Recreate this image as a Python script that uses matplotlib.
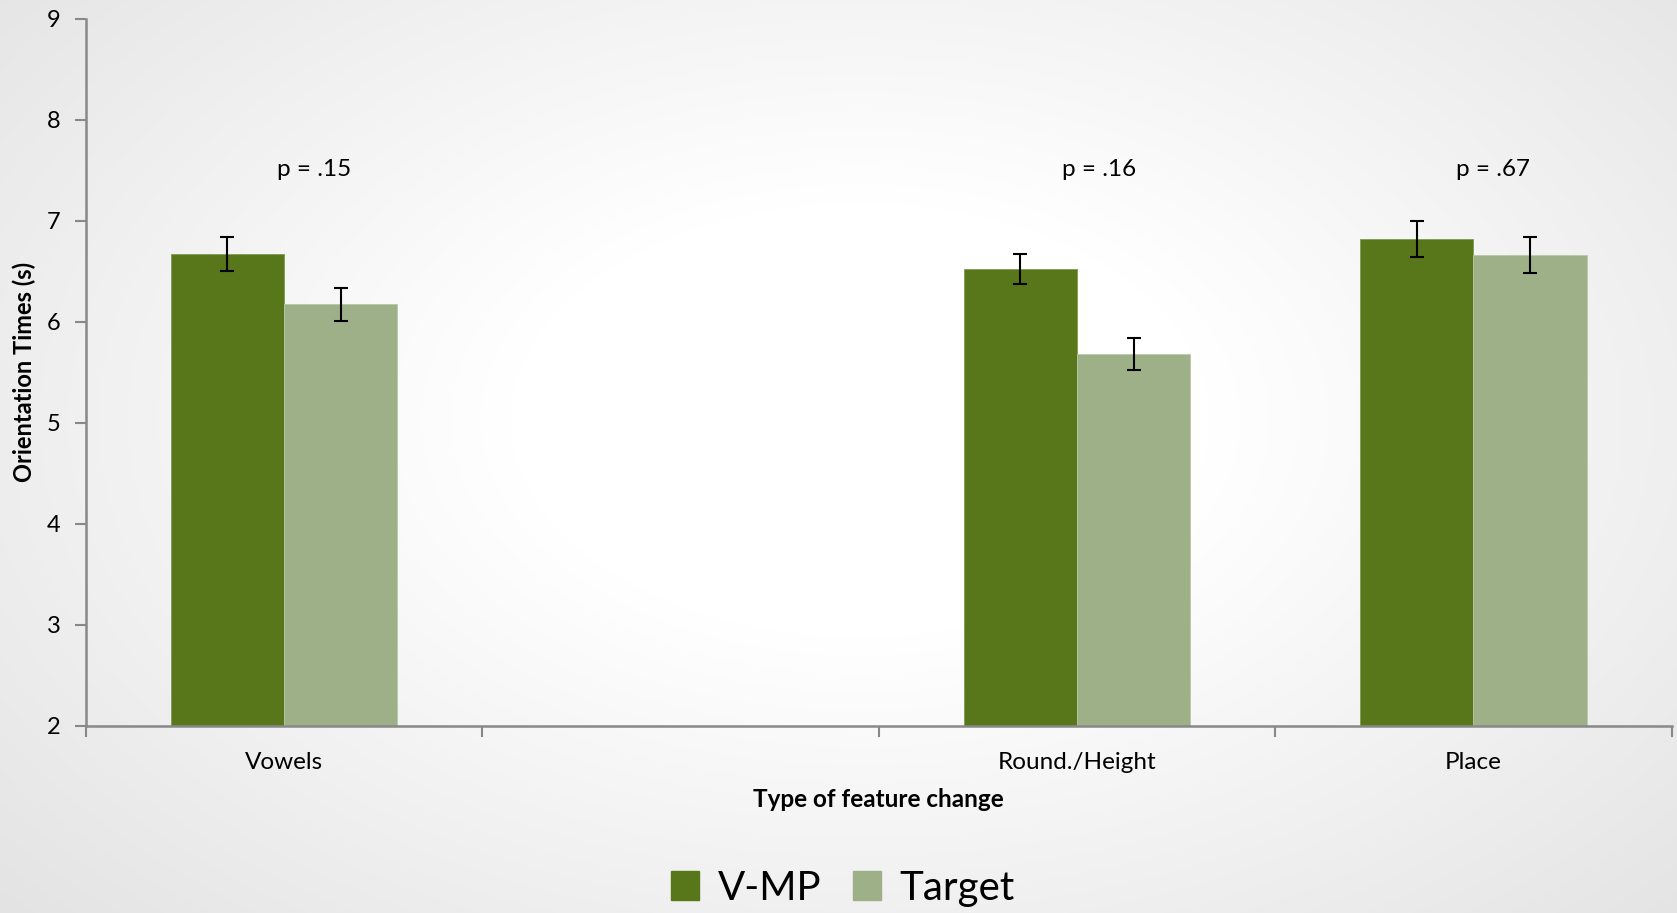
import numpy as np
import matplotlib
matplotlib.use("Agg")
import matplotlib.pyplot as plt
from matplotlib.patches import Patch

plt.rcParams['font.family'] = ['Lato', 'DejaVu Sans']

# Data
categories = ["Vowels", "", "Round./Height", "Place"]
series_names = ["V-MP", "Target"]
vmp_means = [6.67, np.nan, 6.52, 6.82]
vmp_se = [0.17, np.nan, 0.15, 0.18]
target_means = [6.17, np.nan, 5.68, 6.66]
target_se = [0.165, np.nan, 0.16, 0.18]
p_labels = ["p = .15", "p = .16", "p = .67"]
p_label_x = [0.075, 2.055, 3.05]
p_label_y = 7.51

colors = ["#58771B", "#9EB088"]

W, H, DPI = 1677, 913, 100
fig = plt.figure(figsize=(W / DPI, H / DPI), dpi=DPI)

# Soft radial background
bg = fig.add_axes([0, 0, 1, 1], zorder=-10)
yy, xx = np.mgrid[0:H, 0:W]
r = np.sqrt(((xx - 860) / 1000.0) ** 2 + ((yy - 420) / 620.0) ** 2)
shade = 1.0 - 0.10 * np.clip(r - 0.35, 0, None) / 0.75
shade = np.clip(shade, 0.88, 1.0)
bg.imshow(np.dstack([shade] * 3), aspect='auto', extent=[0, 1, 0, 1])
bg.set_axis_off()

ax = fig.add_axes([0.0511, 0.2053, 0.9457, 0.7744])
ax.patch.set_alpha(0)

x = np.arange(len(categories))
bw = 1 / 3.5
err_kw = dict(ecolor='black', elinewidth=1.5, capsize=5, capthick=1.5)
ax.bar(x - bw / 2, vmp_means, bw, yerr=vmp_se, color=colors[0],
       edgecolor='#7f9a50', linewidth=0.6, error_kw=err_kw, label=series_names[0])
ax.bar(x + bw / 2, target_means, bw, yerr=target_se, color=colors[1],
       edgecolor='#b9c8a8', linewidth=0.6, error_kw=err_kw, label=series_names[1])

for px, lab in zip(p_label_x, p_labels):
    ax.text(px, p_label_y, lab, ha='center', va='center', fontsize=17.5)

ax.set_ylim(2, 9)
ax.set_xlim(-0.5, len(categories) - 0.5)
ax.set_yticks(range(2, 10))
ax.tick_params(axis='y', labelsize=17, length=8, width=1.5, color='#888888', pad=10)
ax.set_xticks(np.arange(-0.5, len(categories)), minor=False)
ax.set_xticklabels([])
ax.set_xticks(x, minor=True)
ax.set_xticklabels(categories, minor=True)
ax.tick_params(axis='x', which='major', length=8, width=1.5, color='#888888')
ax.tick_params(axis='x', which='minor', length=0, labelsize=17.5, pad=19)

for s in ['top', 'right']:
    ax.spines[s].set_visible(False)
for s in ['left', 'bottom']:
    ax.spines[s].set_color('#888888')
    ax.spines[s].set_linewidth(1.8)

ax.set_ylabel("Orientation Times (s)", fontsize=17, fontweight='bold', labelpad=8)
ax.set_xlabel("Type of feature change", fontsize=17.5, fontweight='bold', labelpad=11)

handles = [Patch(color=colors[0]), Patch(color=colors[1])]
fig.legend(handles, series_names, loc='center', bbox_to_anchor=(843 / W, 1 - 888 / H),
           ncol=2, frameon=False, fontsize=29, handlelength=0.7, handleheight=0.7,
           handletextpad=0.45, columnspacing=0.8)

fig.savefig("out.png", dpi=DPI)
